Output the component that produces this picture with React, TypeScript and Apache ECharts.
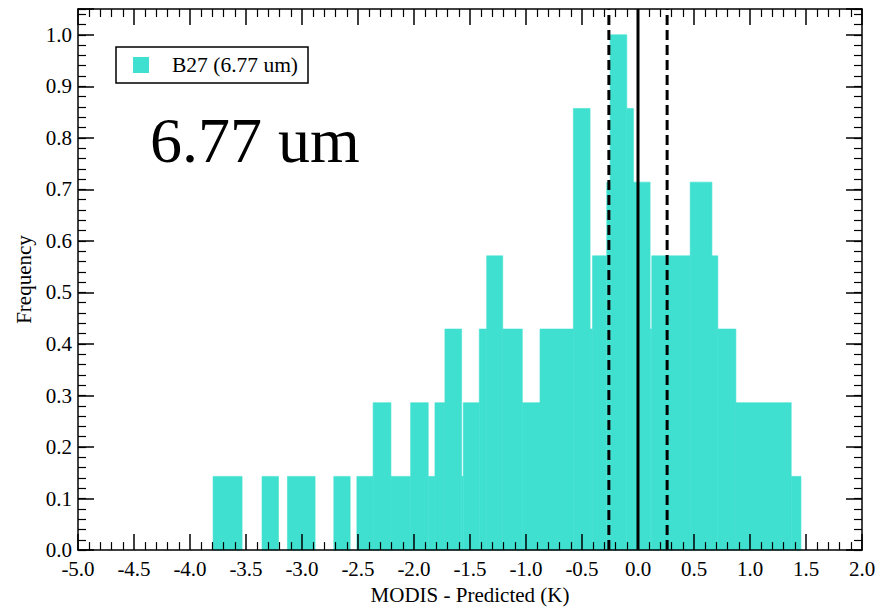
import React, { useEffect, useRef } from "react";
import * as echarts from "echarts";

// Histogram steps: left edge, right edge (K), frequency
const binLeft = [
  -3.794, -3.357, -3.13, -2.716, -2.51, -2.365, -2.206, -2.03, -1.873, -1.813,
  -1.724, -1.575, -1.56, -1.417, -1.351, -1.208, -1.033, -0.875, -0.577, -0.428,
  -0.406, -0.279, -0.249, -0.1, -0.041, 0.108, 0.123, 0.466, 0.66, 0.713, 0.874, 1.368,
];
const binRight = [
  -3.535, -3.21, -2.883, -2.57, -2.365, -2.206, -2.03, -1.873, -1.813, -1.724,
  -1.575, -1.56, -1.417, -1.351, -1.208, -1.033, -0.875, -0.577, -0.428, -0.406,
  -0.279, -0.249, -0.1, -0.041, 0.108, 0.123, 0.466, 0.66, 0.713, 0.874, 1.368, 1.455,
];
const frequency = [
  0.143, 0.143, 0.143, 0.143, 0.143, 0.286, 0.143, 0.286, 0.143, 0.286,
  0.429, 0.143, 0.286, 0.429, 0.571, 0.429, 0.286, 0.429, 0.857, 0.429,
  0.571, 0.714, 1.0, 0.857, 0.714, 0.429, 0.571, 0.714, 0.571, 0.429, 0.286, 0.143,
];

const dashedLinesX = [-0.26, 0.26];
const solidLineX = [0.0];

const seriesName = "B27 (6.77 um)";
const bigLabel = "6.77 um";
const xTitle = "MODIS - Predicted (K)";
const yTitle = "Frequency";

const X_MIN = -5;
const X_MAX = 2;
const Y_MIN = 0;
const Y_MAX = 1.05;

const FONT = "'Liberation Serif', 'Times New Roman', serif";
const BAR_COLOR = "#40E0D0";

export default function App() {
  const ref = useRef<HTMLDivElement>(null);

  useEffect(() => {
    if (!ref.current) return;
    const chart = echarts.init(ref.current, null, { renderer: "svg" });

    const barData = binLeft.map((l, i) => [l, binRight[i], frequency[i]]);

    const tickCommon = { show: true, inside: true, lineStyle: { color: "#000", width: 1.5 } };

    const xBase = {
      type: "value" as const,
      min: X_MIN,
      max: X_MAX,
      interval: 0.5,
      z: 5,
      splitLine: { show: false },
      axisLine: { show: true, onZero: false, lineStyle: { color: "#000", width: 1.5 } },
      axisTick: { ...tickCommon, length: 16 },
      minorTick: { show: true, splitNumber: 5, length: 8, lineStyle: { color: "#000", width: 1.2 } },
    };

    const yMajorBase = {
      type: "value" as const,
      min: Y_MIN,
      max: Y_MAX,
      interval: 0.1,
      z: 5,
      splitLine: { show: false },
      axisLine: { show: true, onZero: false, lineStyle: { color: "#000", width: 1.5 } },
      axisTick: { ...tickCommon, length: 16 },
    };
    const yMinorBase = {
      type: "value" as const,
      min: Y_MIN,
      max: Y_MAX,
      interval: 0.02,
      z: 5,
      splitLine: { show: false },
      axisLine: { show: false, onZero: false },
      axisLabel: { show: false },
      axisTick: { show: true, inside: true, length: 8, lineStyle: { color: "#000", width: 1.2 } },
    };

    const vline = (x: number, dashed: boolean) => ({
      type: "line",
      data: [
        [x, Y_MIN],
        [x, Y_MAX],
      ],
      symbol: "none",
      silent: true,
      z: 4,
      lineStyle: { color: "#000", width: 3, type: dashed ? [10, 5] : "solid" },
    });

    chart.setOption({
      animation: false,
      backgroundColor: "#fff",
      textStyle: { fontFamily: FONT },
      grid: { left: 78, right: 24, top: 9, bottom: 53, containLabel: false },
      legend: {
        data: [seriesName],
        left: 116,
        top: 47,
        orient: "vertical",
        icon: "rect",
        itemWidth: 16,
        itemHeight: 16,
        borderColor: "#000",
        borderWidth: 1.5,
        borderRadius: 0,
        padding: [7, 10, 7, 17],
        selectedMode: false,
        textStyle: {
          fontFamily: FONT,
          fontSize: 21.5,
          color: "#000",
          lineHeight: 21,
          padding: [0, 0, 0, 18],
        },
      },
      xAxis: [
        {
          ...xBase,
          position: "bottom",
          name: xTitle,
          nameLocation: "middle",
          nameGap: 31,
          nameTextStyle: { fontFamily: FONT, fontSize: 21, color: "#000" },
          axisLabel: {
            show: true,
            margin: 8,
            fontFamily: FONT,
            fontSize: 21,
            color: "#000",
            formatter: (v: number) => v.toFixed(1),
          },
        },
        {
          ...xBase,
          position: "top",
          axisLabel: { show: false },
        },
      ],
      yAxis: [
        {
          ...yMajorBase,
          position: "left",
          name: yTitle,
          nameLocation: "middle",
          nameGap: 43,
          nameRotate: 90,
          nameTextStyle: { fontFamily: FONT, fontSize: 21, color: "#000" },
          axisLabel: {
            show: true,
            margin: 6,
            fontFamily: FONT,
            fontSize: 21,
            color: "#000",
            formatter: (v: number) =>
              Math.abs(v * 10 - Math.round(v * 10)) < 1e-6 ? v.toFixed(1) : "",
          },
        },
        { ...yMinorBase, position: "left" },
        { ...yMajorBase, position: "right", axisLabel: { show: false } },
        { ...yMinorBase, position: "right" },
      ],
      graphic: [
        {
          type: "text",
          left: 150,
          top: 108,
          style: {
            text: bigLabel,
            fontFamily: FONT,
            fontSize: 64,
            fill: "#000",
          },
        },
      ],
      series: [
        {
          type: "custom",
          name: seriesName,
          xAxisIndex: 0,
          yAxisIndex: 0,
          z: 2,
          itemStyle: { color: BAR_COLOR },
          encode: { x: [0, 1], y: 2 },
          data: barData,
          renderItem: (params: any, api: any) => {
            const x0 = api.value(0);
            const x1 = api.value(1);
            const y = api.value(2);
            const p0 = api.coord([x0, y]);
            const p1 = api.coord([x1, 0]);
            return {
              type: "rect",
              shape: { x: p0[0], y: p0[1], width: p1[0] - p0[0], height: p1[1] - p0[1] },
              style: { fill: BAR_COLOR, stroke: BAR_COLOR, lineWidth: 0.6 },
            };
          },
        },
        ...dashedLinesX.map((x) => vline(x, true)),
        ...solidLineX.map((x) => vline(x, false)),
      ],
    });

    return () => {
      chart.dispose();
    };
  }, []);

  return (
    <div
      ref={ref}
      style={{ position: "absolute", left: 0, top: 0, width: 886, height: 610 }}
    />
  );
}
